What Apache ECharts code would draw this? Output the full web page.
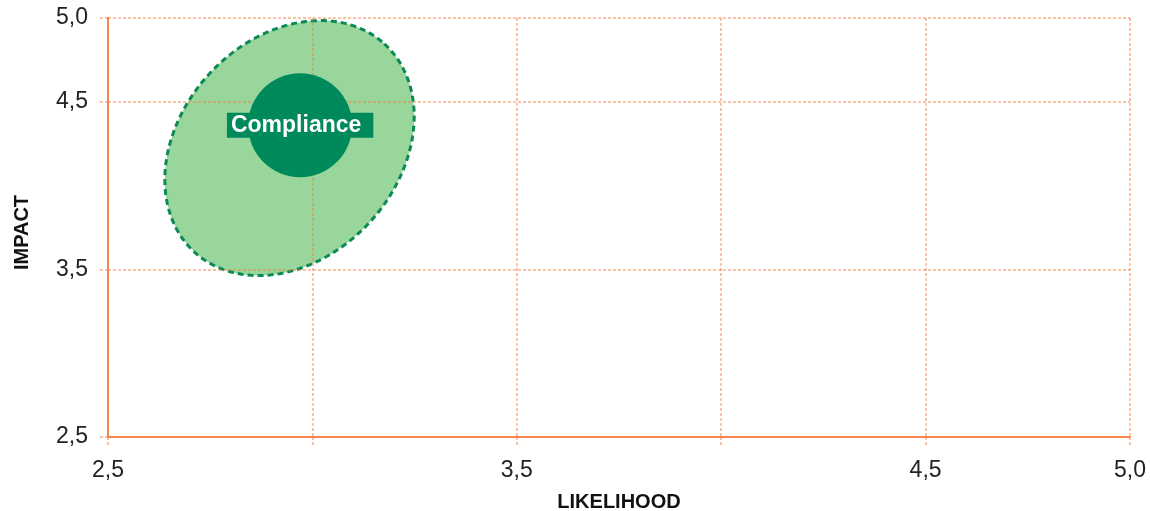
<!DOCTYPE html>
<html>
<head>
<meta charset="utf-8">
<title>Risk map</title>
<script src="https://cdn.jsdelivr.net/npm/echarts@6/dist/echarts.min.js"></script>
<style>
  html, body { margin: 0; padding: 0; background: #ffffff; }
  #chart { width: 1150px; height: 511px; }
</style>
</head>
<body>
<div id="chart"></div>
<script>
// Axis tick labels that are printed (other grid positions stay unlabeled)
const likelihoodLabels = [2.5, 3.5, 4.5, 5.0];
const impactLabels = [2.5, 3.5, 4.5, 5.0];

// Risk bubbles: name, likelihood, impact
const riskNames = ['Compliance'];
const riskLikelihood = [2.97];
const riskImpact = [4.36];

// Uncertainty range around each risk, as an ellipse:
// centre, end of the long semi-axis, end of the short semi-axis (data units)
const rangeCenter = [[2.944, 4.224]];
const rangeMajorEnd = [[3.176, 4.846]];
const rangeMinorEnd = [[3.142, 3.786]];

const FONT = '"Liberation Sans", Arial, Helvetica, sans-serif';
const AXIS_ORANGE = '#f4864e';
const GRID_COLOR = 'rgba(247,122,58,0.6)';

const fmt = v => Number(v).toFixed(1).replace('.', ',');
const isLabeled = (list, v) => list.some(t => Math.abs(t - v) < 1e-6);

const rangeData = rangeCenter.map((c, i) => [
  c[0], c[1],
  rangeMajorEnd[i][0], rangeMajorEnd[i][1],
  rangeMinorEnd[i][0], rangeMinorEnd[i][1]
]);

const bubbleData = riskNames.map((n, i) => ({ name: n, value: [riskLikelihood[i], riskImpact[i]] }));

const chart = echarts.init(document.getElementById('chart'));
chart.setOption({
  animation: false,
  backgroundColor: '#ffffff',
  grid: { left: 108, right: 20, top: 18, bottom: 74, outerBoundsMode: 'none' },
  xAxis: {
    type: 'value',
    min: 2.5,
    max: 5,
    interval: 0.5,
    name: 'LIKELIHOOD',
    nameLocation: 'middle',
    nameGap: 55,
    nameTextStyle: { fontFamily: FONT, fontSize: 20, fontWeight: 'bold', color: '#111' },
    axisLine: { onZero: false, lineStyle: { color: AXIS_ORANGE, width: 2 } },
    axisTick: { show: true, length: 10, lineStyle: { color: GRID_COLOR, width: 1.5, type: [3, 2] } },
    axisLabel: {
      margin: 22,
      fontFamily: FONT,
      fontSize: 23,
      color: '#222',
      formatter: v => isLabeled(likelihoodLabels, v) ? fmt(v) : ''
    },
    splitLine: { show: true, lineStyle: { color: GRID_COLOR, width: 1.5, type: [3, 2] } }
  },
  yAxis: {
    type: 'value',
    min: 2.5,
    max: 5,
    interval: 1,
    name: 'IMPACT',
    nameLocation: 'middle',
    nameGap: 76,
    nameTextStyle: { fontFamily: FONT, fontSize: 20, fontWeight: 'bold', color: '#111', padding: [0, 10, 0, 0] },
    axisLine: { show: true, onZero: false, lineStyle: { color: AXIS_ORANGE, width: 2 } },
    axisTick: { show: true, length: 8, lineStyle: { color: GRID_COLOR, width: 1.5, type: [3, 2] } },
    axisLabel: {
      margin: 20,
      padding: [5, 0, 0, 0],
      fontFamily: FONT,
      fontSize: 23,
      color: '#222',
      formatter: v => isLabeled(impactLabels, v) ? fmt(v) : ''
    },
    splitLine: { show: true, lineStyle: { color: GRID_COLOR, width: 1.5, type: [3, 2] } }
  },
  series: [
    {
      // range ellipse, drawn under the grid lines
      type: 'custom',
      z: -1,
      silent: true,
      data: rangeData,
      encode: { x: [0, 2, 4], y: [1, 3, 5] },
      renderItem: function (params, api) {
        const c = api.coord([api.value(0), api.value(1)]);
        const m = api.coord([api.value(2), api.value(3)]);
        const n = api.coord([api.value(4), api.value(5)]);
        const steps = 160;
        const pts = [];
        for (let k = 0; k < steps; k++) {
          const t = (k / steps) * Math.PI * 2;
          const ct = Math.cos(t), st = Math.sin(t);
          pts.push([
            c[0] + ct * (m[0] - c[0]) + st * (n[0] - c[0]),
            c[1] + ct * (m[1] - c[1]) + st * (n[1] - c[1])
          ]);
        }
        return {
          type: 'polygon',
          shape: { points: pts },
          style: {
            fill: '#98d69b',
            stroke: '#0b8a55',
            lineWidth: 3,
            lineDash: [6, 4]
          }
        };
      }
    },
    {
      type: 'scatter',
      z: 3,
      data: bubbleData,
      symbol: 'circle',
      symbolSize: 104,
      itemStyle: { color: '#00895a', opacity: 1 },
      label: {
        show: true,
        position: 'inside',
        formatter: p => p.name,
        fontFamily: FONT,
        fontSize: 23,
        fontWeight: 'bold',
        color: '#ffffff',
        backgroundColor: '#00895a',
        padding: [2, 12, 0, 4]
      },
      emphasis: { disabled: true }
    }
  ]
});
</script>
</body>
</html>
